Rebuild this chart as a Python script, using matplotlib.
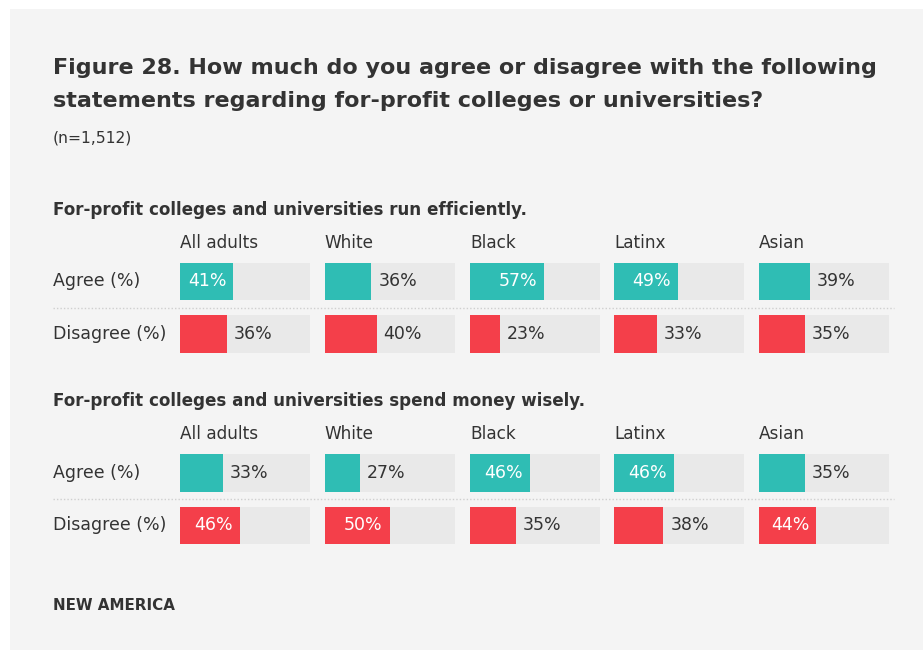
import matplotlib
matplotlib.use("Agg")
import matplotlib.pyplot as plt
from matplotlib.lines import Line2D

# ---- data ----
groups = ["All adults", "White", "Black", "Latinx", "Asian"]
rows = ["Agree (%)", "Disagree (%)"]
statements = [
    "For-profit colleges and universities run efficiently.",
    "For-profit colleges and universities spend money wisely.",
]
efficient_agree = [41, 36, 57, 49, 39]
efficient_disagree = [36, 40, 23, 33, 35]
wisely_agree = [33, 27, 46, 46, 35]
wisely_disagree = [46, 50, 35, 38, 44]

sections = [
    (efficient_agree, efficient_disagree),
    (wisely_agree, wisely_disagree),
]

title_lines = [
    "Figure 28. How much do you agree or disagree with the following",
    "statements regarding for-profit colleges or universities?",
]
subtitle = "(n=1,512)"
source = "NEW AMERICA"

# ---- style ----
FONT = "DejaVu Sans"
TEAL = "#2fbdb4"
RED = "#f43f4a"
TRACK = "#e9e9e9"
PANEL = "#f4f4f4"
INK = "#333333"

W, H = 923, 650
fig = plt.figure(figsize=(W / 100, H / 100), dpi=100)
fig.patch.set_facecolor("white")


def fx(px):
    return px / W


def fy(py):
    return 1 - py / H


# light panel behind everything
panel = fig.add_axes([fx(10), 0, 1 - fx(10), fy(9)])
panel.set_facecolor(PANEL)
panel.set_xticks([])
panel.set_yticks([])
for s in panel.spines.values():
    s.set_visible(False)
panel.set_zorder(-5)

for i, line in enumerate(title_lines):
    fig.text(fx(53), fy(74 + 33 * i), line, fontsize=16, fontweight="bold",
             color=INK, family=FONT, va="baseline")
fig.text(fx(53), fy(138), subtitle, fontsize=11.2, color=INK, family=FONT,
         va="center")
fig.text(fx(53), fy(605), source, fontsize=10.9, fontweight="bold", color=INK,
         family=FONT, va="center")

col_left = [180, 324.5, 470, 614, 759]
col_w = 130
sec_title_y = [210, 401]
header_y = [243, 434]
bar_top = [262.7, 454]
row_pitch = 52.5
bar_h_px = 37.5

for si, (agree, disagree) in enumerate(sections):
    fig.text(fx(53), fy(sec_title_y[si]), statements[si], fontsize=12.1,
             fontweight="bold", color=INK, family=FONT, va="center")
    top = bar_top[si]
    span = row_pitch + bar_h_px
    bh = bar_h_px / row_pitch
    for ri, lab in enumerate(rows):
        yc = top + bar_h_px / 2 + ri * row_pitch
        fig.text(fx(53), fy(yc), lab, fontsize=12.5, color=INK, family=FONT,
                 va="center")
    # dotted separator between the two rows
    ysep = top + bar_h_px + (row_pitch - bar_h_px) / 2
    fig.add_artist(Line2D([fx(53), fx(894)], [fy(ysep), fy(ysep)],
                          transform=fig.transFigure, color="#cfcfcf",
                          lw=1.0, ls=(0, (1, 1.5))))
    for gi, g in enumerate(groups):
        x0 = col_left[gi]
        fig.text(fx(x0), fy(header_y[si]), g, fontsize=12.2, color=INK,
                 family=FONT, va="center")
        ax = fig.add_axes([fx(x0), fy(top + span), col_w / W, span / H])
        ax.set_xlim(0, 100)
        ax.set_ylim(1 + bh / 2, -bh / 2)
        ax.axis("off")
        vals = [agree[gi], disagree[gi]]
        cols = [TEAL, RED]
        ax.barh([0, 1], [100, 100], height=bh, left=0, color=TRACK)
        ax.barh([0, 1], vals, height=bh, left=0, color=cols)
        for ri, v in enumerate(vals):
            if v > 40:
                ax.annotate(f"{v}%", (v, ri), xytext=(-5, 0),
                            textcoords="offset points", ha="right",
                            va="center", color="white", fontsize=12.5,
                            family=FONT)
            else:
                ax.annotate(f"{v}%", (v, ri), xytext=(5, 0),
                            textcoords="offset points", ha="left",
                            va="center", color=INK, fontsize=12.5,
                            family=FONT)

fig.savefig("out.png", dpi=100, facecolor=fig.get_facecolor())
